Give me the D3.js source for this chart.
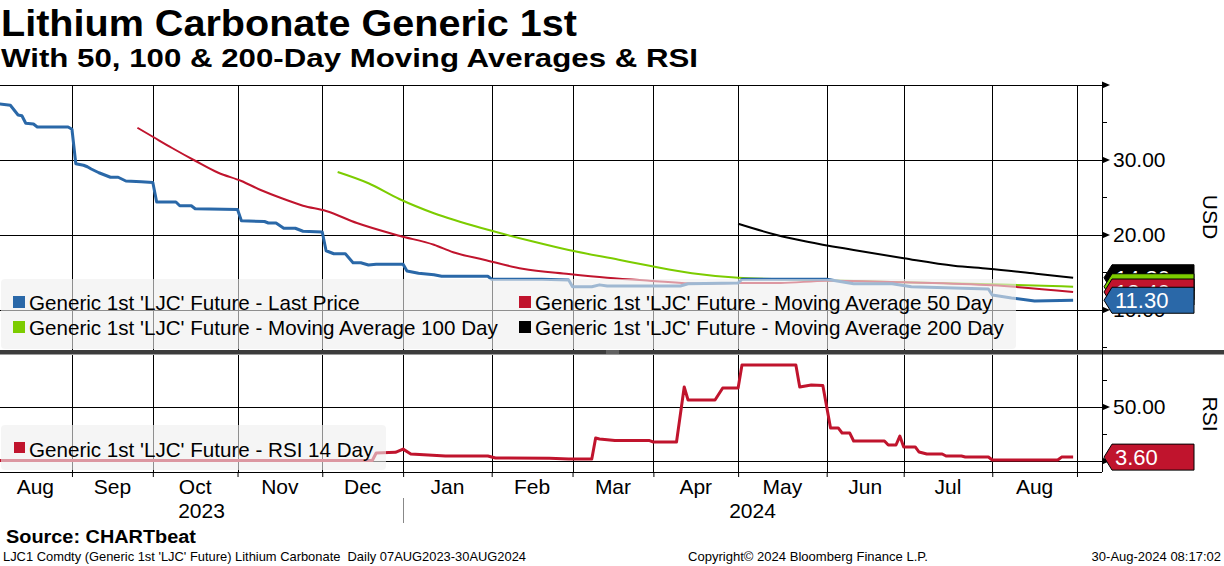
<!DOCTYPE html>
<html><head><meta charset="utf-8">
<script src="https://cdn.jsdelivr.net/npm/d3@7"></script>
<style>
body{margin:0;background:#fff;}
svg{display:block;}
text{font-family:"Liberation Sans",Arial,sans-serif;}
</style>
</head><body>
<svg id="c" width="1224" height="566"></svg>
<script>
// ---------------- DATA ----------------
const lastPrice = [
 ["2023-08-07",37.5],["2023-08-10",37.3],["2023-08-14",36.0],["2023-08-15",35.9],["2023-08-16",34.9],
 ["2023-08-18",34.8],["2023-08-21",34.4],["2023-08-31",34.4],["2023-09-01",34.1],["2023-09-04",29.5],
 ["2023-09-06",29.3],["2023-09-07",29.1],["2023-09-08",28.8],["2023-09-12",28.3],["2023-09-15",27.7],
 ["2023-09-19",27.7],["2023-09-21",27.2],["2023-09-27",27.1],["2023-10-02",27.0],["2023-10-03",24.4],
 ["2023-10-10",24.4],["2023-10-11",23.9],["2023-10-16",23.9],["2023-10-17",23.5],["2023-11-01",23.4],
 ["2023-11-02",21.9],["2023-11-10",21.8],["2023-11-13",21.6],["2023-11-15",21.6],["2023-11-17",20.9],
 ["2023-11-22",20.9],["2023-11-24",20.5],["2023-12-01",20.4],["2023-12-04",17.9],["2023-12-06",17.5],
 ["2023-12-11",17.5],["2023-12-13",16.3],["2023-12-15",16.3],["2023-12-19",16.0],["2023-12-21",16.1],
 ["2024-01-01",16.1],["2024-01-02",15.2],["2024-01-05",14.9],["2024-01-11",14.7],["2024-01-15",14.5],
 ["2024-01-31",14.5],["2024-02-01",14.1],["2024-02-20",14.1],["2024-02-29",14.0],["2024-03-01",13.1],
 ["2024-03-08",13.1],["2024-03-12",13.35],["2024-03-14",13.2],["2024-04-10",13.2],["2024-04-12",13.5],
 ["2024-05-01",13.6],["2024-05-02",14.1],["2024-06-03",14.1],["2024-06-12",13.5],["2024-06-26",13.5],
 ["2024-07-03",13.1],["2024-07-31",12.8],["2024-08-01",12.0],["2024-08-08",11.6],["2024-08-16",11.2],
 ["2024-08-30",11.3]
];
const ma50 = [
 ["2023-09-26",34.3],["2023-10-02",33.1],["2023-10-09",31.6],["2023-10-17",29.9],["2023-10-25",28.3],
 ["2023-11-02",27.2],["2023-11-09",26.0],["2023-11-17",24.8],["2023-11-24",23.9],["2023-12-04",23.2],
 ["2023-12-14",21.6],["2023-12-29",19.9],["2024-01-11",18.7],["2024-01-18",17.7],["2024-01-30",16.7],
 ["2024-02-13",15.5],["2024-02-29",14.8],["2024-03-14",14.3],["2024-03-29",13.9],["2024-04-17",13.5],
 ["2024-04-30",13.6],["2024-05-16",13.6],["2024-06-03",13.9],["2024-07-01",13.7],["2024-08-01",13.3],
 ["2024-08-30",12.4]
];
const ma100 = [
 ["2023-12-07",28.4],["2023-12-19",26.9],["2023-12-29",24.8],["2024-01-11",22.9],["2024-01-31",20.7],
 ["2024-02-16",19.1],["2024-02-29",18.0],["2024-03-19",16.7],["2024-03-29",15.9],["2024-04-15",14.9],
 ["2024-05-01",14.3],["2024-05-20",14.1],["2024-07-01",13.7],["2024-08-06",13.4],["2024-08-30",13.1]
];
const ma200 = [
 ["2024-05-01",21.5],["2024-05-15",20.0],["2024-05-27",19.1],["2024-06-12",18.0],["2024-07-01",16.9],
 ["2024-07-18",15.9],["2024-07-31",15.5],["2024-08-19",14.8],["2024-08-30",14.3]
];
const rsi14 = [
 ["2023-08-07",0.5],["2023-12-20",0.5],["2023-12-21",7.4],["2023-12-28",8.0],["2024-01-01",11.0],
 ["2024-01-03",6.5],["2024-01-16",4.6],["2024-01-31",4.6],["2024-02-02",2.8],["2024-02-22",2.5],
 ["2024-02-29",1.8],["2024-03-08",1.8],["2024-03-11",21.3],["2024-03-12",20.4],["2024-03-18",18.9],
 ["2024-03-29",18.9],["2024-04-01",17.6],["2024-04-09",17.6],["2024-04-11",68.5],["2024-04-12",56.5],
 ["2024-04-23",56.5],["2024-04-25",67.6],["2024-05-01",67.6],["2024-05-02",88.9],["2024-05-22",88.9],
 ["2024-05-23",68.5],["2024-05-28",70.4],["2024-05-31",70.0],["2024-06-04",30.6],["2024-06-06",30.6],
 ["2024-06-07",25.9],["2024-06-11",25.9],["2024-06-12",18.5],["2024-06-24",18.5],["2024-06-25",14.8],
 ["2024-06-27",14.8],["2024-06-28",23.1],["2024-07-01",13.0],["2024-07-04",13.0],["2024-07-05",8.3],
 ["2024-07-09",6.5],["2024-07-15",6.5],["2024-07-16",4.6],["2024-07-22",4.6],["2024-07-23",3.7],
 ["2024-07-31",3.7],["2024-08-01",0.9],["2024-08-26",0.9],["2024-08-27",3.6],["2024-08-30",3.6]
];
const monthStarts = ["2023-08-07","2023-09-01","2023-10-02","2023-11-01","2023-12-01","2024-01-01",
 "2024-02-01","2024-03-01","2024-04-01","2024-05-01","2024-06-03","2024-07-01","2024-08-01","2024-09-02"];
const monthNames = ["Aug","Sep","Oct","Nov","Dec","Jan","Feb","Mar","Apr","May","Jun","Jul","Aug"];
const years = [["2023","2023-08-07","2024-01-01"],["2024","2024-01-01",null]];
const priceMajor = [10,20,30,40];
const priceLabels = [10,20,30];
const priceMinor = [5,15,25,35];
const rsiMajor = [0,50];
const rsiLabels = [50];
const rsiMinor = [25,75];
const legendPrice = ["Generic 1st 'LJC' Future - Last Price","Generic 1st 'LJC' Future - Moving Average 50 Day",
 "Generic 1st 'LJC' Future - Moving Average 100 Day","Generic 1st 'LJC' Future - Moving Average 200 Day"];
const legendRsi = "Generic 1st 'LJC' Future - RSI 14 Day";

// ---------------- STYLE ----------------
const C = {blue:"#2a68a8", red:"#c0142d", green:"#7ccc00", black:"#000000"};

// ---------------- SCALES ----------------
const svg = d3.select("#c");
const fmt = d3.utcFormat("%Y-%m-%d");
const tradingDays = d3.utcDay.range(new Date(Date.UTC(2023,7,7)), new Date(Date.UTC(2024,8,14)))
  .filter(d => d.getUTCDay() !== 0 && d.getUTCDay() !== 6);
const dayIndex = new Map(tradingDays.map((d,i)=>[fmt(d), i]));
const x = d3.scaleLinear().domain([0, 286.5]).range([-1.2, 1102]);
const X = s => s === null ? x(x.domain()[1]) : x(dayIndex.get(s));
const axisX = 1102;
const yP = d3.scaleLinear().domain([10,40]).range([310,85]);
const yR = d3.scaleLinear().domain([0,100]).range([461,353]);
const pTop = yP(40), pBot = 350, rTop = 355, rBot = 472;

// ---------------- GRID ----------------
const grid = svg.append("g").attr("stroke","#000").attr("stroke-width",1).attr("shape-rendering","crispEdges");
priceMajor.forEach(v => grid.append("line").attr("x1",0).attr("x2",axisX).attr("y1",yP(v)).attr("y2",yP(v)));
rsiMajor.forEach(v => grid.append("line").attr("x1",0).attr("x2",axisX).attr("y1",yR(v)).attr("y2",yR(v)));
monthStarts.slice(1).forEach(s => {
  const xx = Math.round(X(s));
  grid.append("line").attr("x1",xx).attr("x2",xx).attr("y1",pTop).attr("y2",pBot);
  grid.append("line").attr("x1",xx).attr("x2",xx).attr("y1",rTop).attr("y2",rBot);
});

// ---------------- LINES ----------------
const lineP = d3.line().x(d=>X(d[0])).y(d=>yP(d[1]));
const smoothP = d3.line().x(d=>X(d[0])).y(d=>yP(d[1])).curve(d3.curveMonotoneX);
const lineR = d3.line().x(d=>X(d[0])).y(d=>yR(d[1]));
const plotLines = svg.append("g").attr("fill","none").attr("stroke-linejoin","round");
plotLines.append("path").datum(ma200).attr("d",smoothP).attr("stroke",C.black).attr("stroke-width",2);
plotLines.append("path").datum(ma100).attr("d",smoothP).attr("stroke",C.green).attr("stroke-width",2);
plotLines.append("path").datum(ma50).attr("d",smoothP).attr("stroke",C.red).attr("stroke-width",2);
plotLines.append("path").datum(lastPrice).attr("d",lineP).attr("stroke",C.blue).attr("stroke-width",3);
plotLines.append("path").datum(rsi14).attr("d",lineR).attr("stroke",C.red).attr("stroke-width",3);

// ---------------- LEGENDS (semi transparent) ----------------
const lg = svg.append("g");
lg.append("rect").attr("x",1).attr("y",279).attr("width",1015).attr("height",70).attr("rx",4)
  .attr("fill","#eeeeee").attr("fill-opacity",0.6);
const legColors = [C.blue, C.red, C.green, C.black];
const legPos = [[13,296],[519,296],[13,321],[519,321]];
legendPrice.forEach((t,i) => {
  lg.append("rect").attr("x",legPos[i][0]).attr("y",legPos[i][1]).attr("width",12).attr("height",12).attr("fill",legColors[i]);
  lg.append("text").attr("x",legPos[i][0]+16).attr("y",legPos[i][1]+14).attr("font-size",20.6).attr("fill","#000").text(t);
});
lg.append("rect").attr("x",1).attr("y",425).attr("width",385).attr("height",45).attr("rx",4)
  .attr("fill","#eeeeee").attr("fill-opacity",0.6);
lg.append("rect").attr("x",14).attr("y",442).attr("width",11).attr("height",11).attr("fill",C.red);
lg.append("text").attr("x",29).attr("y",457).attr("font-size",20.6).attr("fill","#000").text(legendRsi);

// ---------------- PANEL DIVIDER ----------------
svg.append("rect").attr("x",0).attr("y",350).attr("width",1224).attr("height",4.5).attr("fill","#3c3c3c");
[351,353].forEach(yy => svg.append("line").attr("x1",606).attr("x2",619).attr("y1",yy).attr("y2",yy)
  .attr("stroke","#9a9a9a").attr("stroke-width",0.8));

// ---------------- AXES ----------------
const ax = svg.append("g").attr("stroke","#000").attr("shape-rendering","crispEdges");
ax.append("line").attr("x1",axisX).attr("x2",axisX).attr("y1",pTop).attr("y2",rBot);
ax.append("line").attr("x1",0).attr("x2",axisX).attr("y1",rBot).attr("y2",rBot);
const arrows = svg.append("g").attr("fill","#000");
priceMajor.forEach(v => arrows.append("path").attr("d",`M${axisX},${yP(v)-3.5}L${axisX+8},${yP(v)}L${axisX},${yP(v)+3.5}Z`));
rsiMajor.forEach(v => arrows.append("path").attr("d",`M${axisX},${yR(v)-3.5}L${axisX+8},${yR(v)}L${axisX},${yR(v)+3.5}Z`));
priceMinor.forEach(v => ax.append("line").attr("x1",axisX).attr("x2",axisX+5).attr("y1",yP(v)).attr("y2",yP(v)));
rsiMinor.forEach(v => ax.append("line").attr("x1",axisX).attr("x2",axisX+5).attr("y1",yR(v)).attr("y2",yR(v)));

const yAxisP = svg.append("g").attr("transform",`translate(${axisX},0)`)
  .call(d3.axisRight(yP).tickValues(priceLabels).tickSize(0).tickPadding(11).tickFormat(d3.format(".2f")));
const yAxisR = svg.append("g").attr("transform",`translate(${axisX},0)`)
  .call(d3.axisRight(yR).tickValues(rsiLabels).tickSize(0).tickPadding(11).tickFormat(d3.format(".2f")));
[yAxisP,yAxisR].forEach(g => {
  g.select(".domain").remove();
  g.selectAll("text").attr("font-size",21).attr("font-family","Liberation Sans, Arial, sans-serif").attr("fill","#000");
});

// month tick marks
const xAxis = svg.append("g").attr("transform",`translate(0,${rBot})`)
  .call(d3.axisBottom(x).tickValues(monthStarts.slice(1).map(s=>dayIndex.get(s))).tickSize(5).tickFormat(""));
xAxis.select(".domain").remove();
xAxis.selectAll("line").attr("stroke","#000");

// month labels
monthNames.forEach((m,i) => {
  const cx = (X(monthStarts[i]) + X(monthStarts[i+1]))/2;
  svg.append("text").attr("x",cx).attr("y",494).attr("text-anchor","middle").attr("font-size",21).text(m);
});
years.forEach(yv => {
  const cx = (Math.max(0, X(yv[1])) + X(yv[2]))/2;
  svg.append("text").attr("x",cx).attr("y",518).attr("text-anchor","middle").attr("font-size",21).text(yv[0]);
});
svg.append("line").attr("x1",Math.round(X("2024-01-01"))+0.5).attr("x2",Math.round(X("2024-01-01"))+0.5)
  .attr("y1",498).attr("y2",523).attr("stroke","#888");

// axis titles
svg.append("text").attr("transform","translate(1203,217) rotate(90)").attr("text-anchor","middle")
  .attr("font-size",21).text("USD");
svg.append("text").attr("transform","translate(1203,414) rotate(90)").attr("text-anchor","middle")
  .attr("font-size",21).text("RSI");

// ---------------- LAST VALUE TAGS ----------------
function tag(y, val, color){
  const g = svg.append("g");
  g.append("path").attr("d",`M${axisX+2},${y}L${axisX+10},${y-13}H1194V${y+13}H${axisX+10}Z`)
    .attr("fill",color).attr("stroke","#000").attr("stroke-width",1);
  g.append("text").attr("x",1115).attr("y",y).attr("dy","0.36em").attr("font-size",22).attr("fill","#fff")
    .text(d3.format(".2f")(val));
}
const lastOf = a => a[a.length-1][1];
tag(yP(lastOf(ma200)), lastOf(ma200), C.black);
tag(yP(lastOf(ma100)), lastOf(ma100), C.green);
tag(yP(lastOf(ma50)), lastOf(ma50), C.red);
tag(yP(lastOf(lastPrice)), lastOf(lastPrice), C.blue);
tag(yR(lastOf(rsi14)), lastOf(rsi14), C.red);

// ---------------- TITLES & FOOTER ----------------
svg.append("text").attr("x",1).attr("y",36).attr("font-size",36).attr("font-weight","bold")
  .attr("textLength",576).attr("lengthAdjust","spacingAndGlyphs").text("Lithium Carbonate Generic 1st");
svg.append("text").attr("x",1).attr("y",67).attr("font-size",25).attr("font-weight","bold")
  .attr("textLength",697).attr("lengthAdjust","spacingAndGlyphs").text("With 50, 100 & 200-Day Moving Averages & RSI");
svg.append("text").attr("x",6).attr("y",543).attr("font-size",18).attr("font-weight","bold")
  .attr("textLength",190).attr("lengthAdjust","spacingAndGlyphs").text("Source: CHARTbeat");
svg.append("text").attr("x",3).attr("y",561).attr("font-size",13).style("white-space","pre")
  .attr("textLength",523).attr("lengthAdjust","spacingAndGlyphs")
  .text("LJC1 Comdty (Generic 1st 'LJC' Future) Lithium Carbonate  Daily 07AUG2023-30AUG2024");
svg.append("text").attr("x",688).attr("y",561).attr("font-size",13)
  .attr("textLength",240).attr("lengthAdjust","spacingAndGlyphs").text("Copyright\u00A9 2024 Bloomberg Finance L.P.");
svg.append("text").attr("x",1221).attr("y",561).attr("font-size",13).attr("text-anchor","end")
  .text("30-Aug-2024 08:17:02");
</script>
</body></html>
